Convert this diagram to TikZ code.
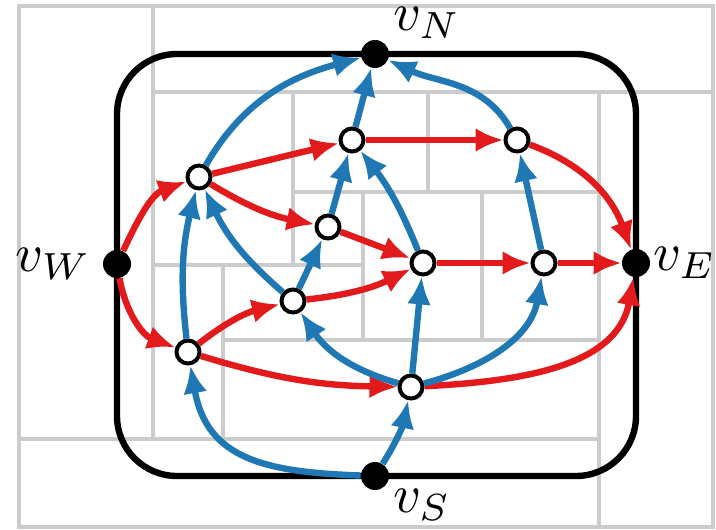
\documentclass[tikz,border=0pt]{standalone}
\usetikzlibrary{arrows.meta,positioning}
\definecolor{ered}{HTML}{E31A1C}
\definecolor{eblue}{HTML}{1F78B4}
\begin{document}
\begin{tikzpicture}[x=0.5pt, y=0.5pt, >={Latex[length=14pt,width=12pt]},
    dualln/.style={black!20, line width=1.6pt},
    rim/.style={line width=3.2pt, rounded corners=30pt},
    redge/.style={->, ered, line width=3.2pt},
    bedge/.style={->, eblue, line width=3.2pt},
    inner/.style={circle, draw, fill=white, line width=2pt, minimum size=11.5pt, inner sep=0pt},
    pole/.style={circle, fill, minimum size=14pt, inner sep=0pt},
    lbl/.style={inner sep=0pt, scale=2.7}]
  \useasboundingbox (0,0) rectangle (716,-529);
  \draw[dualln] (19,-6) rectangle (713,-527);
  \draw[dualln] (153,-6) -- (153,-439) (19,-439) -- (599,-439) (599,-92) -- (599,-527)
    (153,-92) -- (713,-92) (293,-92) -- (293,-265) (428,-92) -- (428,-192)
    (293,-192) -- (599,-192) (153,-265) -- (363,-265) (363,-192) -- (363,-340)
    (482,-192) -- (482,-340) (223,-340) -- (599,-340) (223,-265) -- (223,-439);
  \node[pole] (vN) at (375,-54) {};
  \node[pole] (vW) at (117,-264) {};
  \node[pole] (vE) at (636,-263) {};
  \node[pole] (vS) at (375,-476) {};
  \node[lbl, above right=7pt and 8.5pt of vN.center] (lN) {$v_N$};
  \node[lbl, left=12.5pt of vW.center] (lW) {$v_W$};
  \node[lbl, right=8pt of vE.center] (lE) {$v_E$};
  \node[lbl, below right=6pt and 8.5pt of vS.center] (lS) {$v_S$};
  \draw[rim] (vW.center) |- (vN.center) -| (vE.center) |- (vS.center) -| cycle;
  \foreach \n/\x/\y in {u1/199/177, u2/352/140, u3/517/140, u4/328/227, u5/423/263,
      u6/544/263, u7/188/352, u8/293/301, u9/411/387}
    \node[inner] (\n) at (\x,-\y) {};
  \draw[redge] (vW) to[out=65,in=200] (u1);
  \draw[redge] (vW) to[out=-80,in=160] (u7);
  \draw[redge] (u1) -- (u2);
  \draw[redge] (u1) to[bend right=10] (u4);
  \draw[redge] (u2) -- (u3);
  \draw[redge] (u3) to[out=-20,in=110] (vE);
  \draw[redge] (u4) -- (u5);
  \draw[redge] (u8) to[bend right=10] (u5);
  \draw[redge] (u7) to[bend left=12] (u8);
  \draw[redge] (u5) -- (u6);
  \draw[redge] (u6) -- (vE);
  \draw[redge] (u7) to[bend right=8] (u9);
  \draw[redge] (u9) to[out=3,in=-100] (vE);
  \draw[bedge] (vS) to[out=178,in=-80,looseness=1.2] (u7);
  \draw[bedge] (vS) to[bend right=10] (u9);
  \draw[bedge] (u7) to[bend left=10] (u1);
  \draw[bedge] (u8) to[bend left=12] (u1);
  \draw[bedge] (u1) to[out=60,in=195] (vN);
  \draw[bedge] (u8) -- (u4);
  \draw[bedge] (u9) to[bend left=20] (u8);
  \draw[bedge] (u4) -- (u2);
  \draw[bedge] (u5) to[bend right=8] (u2);
  \draw[bedge] (u2) -- (vN);
  \draw[bedge] (u3) to[out=120,in=-25] (vN);
  \draw[bedge] (u9) -- (u5);
  \draw[bedge] (u9) to[out=15,in=-100] (u6);
  \draw[bedge] (u6) -- (u3);
\end{tikzpicture}
\end{document}
